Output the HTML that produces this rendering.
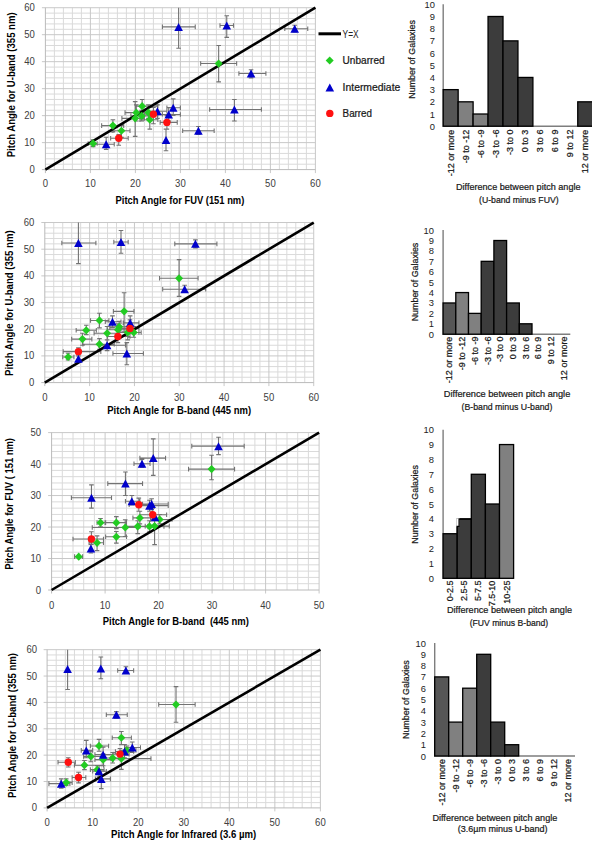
<!DOCTYPE html><html><head><meta charset="utf-8"><style>html,body{margin:0;padding:0;background:#fff;}svg{display:block;font-family:"Liberation Sans",sans-serif;}</style></head><body><svg width="592" height="841" viewBox="0 0 592 841"><rect width="592" height="841" fill="#fff"/><path d="M54.4 7.72V169.6M63.4 7.72V169.6M72.4 7.72V169.6M81.4 7.72V169.6M99.4 7.72V169.6M108.4 7.72V169.6M117.4 7.72V169.6M126.4 7.72V169.6M144.4 7.72V169.6M153.4 7.72V169.6M162.4 7.72V169.6M171.4 7.72V169.6M189.4 7.72V169.6M198.4 7.72V169.6M207.4 7.72V169.6M216.4 7.72V169.6M234.4 7.72V169.6M243.4 7.72V169.6M252.4 7.72V169.6M261.4 7.72V169.6M279.4 7.72V169.6M288.4 7.72V169.6M297.4 7.72V169.6M306.4 7.72V169.6M45.4 164.2H315.4M45.4 158.81H315.4M45.4 153.41H315.4M45.4 148.02H315.4M45.4 137.22H315.4M45.4 131.83H315.4M45.4 126.43H315.4M45.4 121.04H315.4M45.4 110.24H315.4M45.4 104.85H315.4M45.4 99.45H315.4M45.4 94.06H315.4M45.4 83.26H315.4M45.4 77.87H315.4M45.4 72.47H315.4M45.4 67.08H315.4M45.4 56.28H315.4M45.4 50.89H315.4M45.4 45.49H315.4M45.4 40.1H315.4M45.4 29.3H315.4M45.4 23.91H315.4M45.4 18.51H315.4M45.4 13.12H315.4" stroke="#dadada" stroke-width="1" fill="none"/><path d="M90.4 7.72V173.1M135.4 7.72V173.1M180.4 7.72V173.1M225.4 7.72V173.1M270.4 7.72V173.1M315.4 7.72V173.1M41.9 142.62H315.4M41.9 115.64H315.4M41.9 88.66H315.4M41.9 61.68H315.4M41.9 34.7H315.4M41.9 7.72H315.4" stroke="#c8c8c8" stroke-width="1" fill="none"/><path d="M45.4 7.72V169.6H315.4" stroke="#bababa" stroke-width="1" fill="none"/><path d="M41.9 169.6H45.4M45.4 169.6V173.1" stroke="#bababa" stroke-width="1" fill="none"/><text x="45.4" y="183.6" font-size="10" text-anchor="middle" dominant-baseline="central" fill="#404040" textLength="5.3" lengthAdjust="spacingAndGlyphs">0</text><text x="90.4" y="183.6" font-size="10" text-anchor="middle" dominant-baseline="central" fill="#404040" textLength="10.6" lengthAdjust="spacingAndGlyphs">10</text><text x="135.4" y="183.6" font-size="10" text-anchor="middle" dominant-baseline="central" fill="#404040" textLength="10.6" lengthAdjust="spacingAndGlyphs">20</text><text x="180.4" y="183.6" font-size="10" text-anchor="middle" dominant-baseline="central" fill="#404040" textLength="10.6" lengthAdjust="spacingAndGlyphs">30</text><text x="225.4" y="183.6" font-size="10" text-anchor="middle" dominant-baseline="central" fill="#404040" textLength="10.6" lengthAdjust="spacingAndGlyphs">40</text><text x="270.4" y="183.6" font-size="10" text-anchor="middle" dominant-baseline="central" fill="#404040" textLength="10.6" lengthAdjust="spacingAndGlyphs">50</text><text x="315.4" y="183.6" font-size="10" text-anchor="middle" dominant-baseline="central" fill="#404040" textLength="10.6" lengthAdjust="spacingAndGlyphs">60</text><text x="34.9" y="169.6" font-size="10" text-anchor="end" dominant-baseline="central" fill="#404040" textLength="5.3" lengthAdjust="spacingAndGlyphs">0</text><text x="34.9" y="142.62" font-size="10" text-anchor="end" dominant-baseline="central" fill="#404040" textLength="10.6" lengthAdjust="spacingAndGlyphs">10</text><text x="34.9" y="115.64" font-size="10" text-anchor="end" dominant-baseline="central" fill="#404040" textLength="10.6" lengthAdjust="spacingAndGlyphs">20</text><text x="34.9" y="88.66" font-size="10" text-anchor="end" dominant-baseline="central" fill="#404040" textLength="10.6" lengthAdjust="spacingAndGlyphs">30</text><text x="34.9" y="61.68" font-size="10" text-anchor="end" dominant-baseline="central" fill="#404040" textLength="10.6" lengthAdjust="spacingAndGlyphs">40</text><text x="34.9" y="34.7" font-size="10" text-anchor="end" dominant-baseline="central" fill="#404040" textLength="10.6" lengthAdjust="spacingAndGlyphs">50</text><text x="34.9" y="7.72" font-size="10" text-anchor="end" dominant-baseline="central" fill="#404040" textLength="10.6" lengthAdjust="spacingAndGlyphs">60</text><path d="M88.15 143.43H97.15M88.15 141.13V145.73M97.15 141.13V145.73M93.1 146.67V139.92M90.8 146.67H95.4M90.8 139.92H95.4M94.9 144.24H114.25M94.9 141.94V146.54M114.25 141.94V146.54M106.15 149.37V137.22M103.85 149.37H108.45M103.85 137.22H108.45M110.65 138.3H128.2M110.65 136V140.6M128.2 136V140.6M118.75 145.32V134.53M116.45 145.32H121.05M116.45 134.53H121.05M101.65 125.62H123.7M101.65 123.32V127.92M123.7 123.32V127.92M112.9 131.83V119.69M110.6 131.83H115.2M110.6 119.69H115.2M112.9 130.75H130M112.9 128.45V133.05M130 128.45V133.05M121.45 137.22V125.08M119.15 137.22H123.75M119.15 125.08H123.75M121.9 118.34H144.4M121.9 116.04V120.64M144.4 116.04V120.64M135.17 136.41V101.61M132.87 136.41H137.47M132.87 101.61H137.47M125.05 112.67H153.4M125.05 110.37V114.97M153.4 110.37V114.97M136.3 121.04V104.85M134 121.04H138.6M134 104.85H138.6M135.4 106.2H157.9M135.4 103.9V108.5M157.9 103.9V108.5M142.15 112.94V99.45M139.85 112.94H144.45M139.85 99.45H144.45M130.9 115.91H153.4M130.9 113.61V118.21M153.4 113.61V118.21M141.7 121.04V110.24M139.4 121.04H144M139.4 110.24H144M139.9 112.67H157.9M139.9 110.37V114.97M157.9 110.37V114.97M148.45 118.34V104.85M146.15 118.34H150.75M146.15 104.85H150.75M139.9 119.69H157.9M139.9 117.39V121.99M157.9 117.39V121.99M149.8 129.13V115.64M147.5 129.13H152.1M147.5 115.64H152.1M144.4 111.32H166.9M144.4 109.02V113.62M166.9 109.02V113.62M157.45 118.34V104.85M155.15 118.34H159.75M155.15 104.85H159.75M144.4 114.29H162.4M144.4 111.99V116.59M162.4 111.99V116.59M153.4 123.73V107.55M151.1 123.73H155.7M151.1 107.55H155.7M157.9 114.56H180.4M157.9 112.26V116.86M180.4 112.26V116.86M168.7 121.04V107.55M166.4 121.04H171M166.4 107.55H171M166.9 107.82H180.4M166.9 105.52V110.12M180.4 105.52V110.12M173.2 115.37V98.91M170.9 115.37H175.5M170.9 98.91H175.5M160.15 122.38H177.25M160.15 120.08V124.68M177.25 120.08V124.68M166.9 129.13V115.64M164.6 129.13H169.2M164.6 115.64H169.2M166 150.71V129.13M163.7 150.71H168.3M163.7 129.13H168.3M162.4 26.88H195.25M162.4 24.58V29.18M195.25 24.58V29.18M178.6 48.19V7.72M176.3 48.19H180.9M182.65 130.75H214.15M182.65 128.45V133.05M214.15 128.45V133.05M198.4 134.53V126.43M196.1 134.53H200.7M196.1 126.43H200.7M200.65 63.57H236.65M200.65 61.27V65.87M236.65 61.27V65.87M218.65 81.91V45.49M216.35 81.91H220.95M216.35 45.49H220.95M220 25.53H233.5M220 23.23V27.83M233.5 23.23V27.83M226.75 37.4V15.81M224.45 37.4H229.05M224.45 15.81H229.05M209.65 109.43H261.4M209.65 107.13V111.73M261.4 107.13V111.73M234.4 121.04V99.45M232.1 121.04H236.7M232.1 99.45H236.7M238.9 73.55H265.9M238.9 71.25V75.85M265.9 71.25V75.85M251.05 77.87V69.77M248.75 77.87H253.35M248.75 69.77H253.35M284.8 28.76H307.75M284.8 26.46V31.06M307.75 26.46V31.06M294.7 32V25.26M292.4 32H297M292.4 25.26H297" stroke="#737373" stroke-width="1.1" fill="none"/><path d="M45.4 169.6L315.4 7.72" stroke="#000" stroke-width="2.6" fill="none"/><path d="M93.1 139.33L97.1 143.43L93.1 147.53L89.1 143.43Z" fill="#22cc22"/><path d="M112.9 121.52L116.9 125.62L112.9 129.72L108.9 125.62Z" fill="#22cc22"/><path d="M121.45 126.65L125.45 130.75L121.45 134.85L117.45 130.75Z" fill="#22cc22"/><path d="M135.17 114.24L139.17 118.34L135.17 122.44L131.17 118.34Z" fill="#22cc22"/><path d="M136.3 108.57L140.3 112.67L136.3 116.77L132.3 112.67Z" fill="#22cc22"/><path d="M142.15 102.1L146.15 106.2L142.15 110.3L138.15 106.2Z" fill="#22cc22"/><path d="M141.7 111.81L145.7 115.91L141.7 120.01L137.7 115.91Z" fill="#22cc22"/><path d="M148.45 108.57L152.45 112.67L148.45 116.77L144.45 112.67Z" fill="#22cc22"/><path d="M149.8 115.59L153.8 119.69L149.8 123.79L145.8 119.69Z" fill="#22cc22"/><path d="M218.65 59.47L222.65 63.57L218.65 67.67L214.65 63.57Z" fill="#22cc22"/><path d="M106.15 140.24L110.45 148.24L101.85 148.24Z" fill="#0000cc"/><path d="M157.45 107.32L161.75 115.32L153.15 115.32Z" fill="#0000cc"/><path d="M168.7 110.56L173 118.56L164.4 118.56Z" fill="#0000cc"/><path d="M173.2 103.82L177.5 111.82L168.9 111.82Z" fill="#0000cc"/><path d="M166 135.92L170.3 143.92L161.7 143.92Z" fill="#0000cc"/><path d="M178.6 22.88L182.9 30.88L174.3 30.88Z" fill="#0000cc"/><path d="M198.4 126.75L202.7 134.75L194.1 134.75Z" fill="#0000cc"/><path d="M226.75 21.53L231.05 29.53L222.45 29.53Z" fill="#0000cc"/><path d="M234.4 105.43L238.7 113.43L230.1 113.43Z" fill="#0000cc"/><path d="M251.05 69.55L255.35 77.55L246.75 77.55Z" fill="#0000cc"/><path d="M294.7 24.76L299 32.76L290.4 32.76Z" fill="#0000cc"/><circle cx="118.75" cy="138.3" r="3.7" fill="#ff1111"/><circle cx="153.4" cy="114.29" r="3.7" fill="#ff1111"/><circle cx="166.9" cy="122.38" r="3.7" fill="#ff1111"/><text x="115.6" y="200.2" font-size="10" text-anchor="start" dominant-baseline="central" fill="#000" font-weight="bold" textLength="128.7" lengthAdjust="spacingAndGlyphs">Pitch Angle for FUV (151 nm)</text><text x="11.1" y="157.3" font-size="10" text-anchor="start" dominant-baseline="central" fill="#000" font-weight="bold" transform="rotate(-90 11.1 157.3)" textLength="144.9" lengthAdjust="spacingAndGlyphs">Pitch Angle for U-band (355 nm)</text><path d="M318.5 33.8H341" stroke="#000" stroke-width="3"/><text x="342.6" y="34" font-size="10" text-anchor="start" dominant-baseline="central" fill="#222" textLength="16" lengthAdjust="spacingAndGlyphs">Y=X</text><path d="M329.7 56.4L333.7 60.5L329.7 64.6L325.7 60.5Z" fill="#22cc22"/><text x="342.6" y="60.5" font-size="10" text-anchor="start" dominant-baseline="central" fill="#222" textLength="42" lengthAdjust="spacingAndGlyphs" stroke="#111" stroke-width="0.22">Unbarred</text><path d="M329.8 83.6L334.1 91.6L325.5 91.6Z" fill="#0000cc"/><text x="342.6" y="87.4" font-size="10" text-anchor="start" dominant-baseline="central" fill="#222" textLength="57.7" lengthAdjust="spacingAndGlyphs" stroke="#111" stroke-width="0.22">Intermediate</text><circle cx="329.8" cy="113.4" r="3.7" fill="#ff1111"/><text x="342.6" y="113.4" font-size="10" text-anchor="start" dominant-baseline="central" fill="#222" textLength="29.4" lengthAdjust="spacingAndGlyphs" stroke="#111" stroke-width="0.22">Barred</text><path d="M443.2 4.3V126.2H592" stroke="#7e7e7e" stroke-width="1.4" fill="none"/><rect x="443.2" y="89.63" width="14.95" height="36.57" fill="#565656" stroke="#000" stroke-width="1.3"/><rect x="458.15" y="101.82" width="14.95" height="24.38" fill="#808080" stroke="#000" stroke-width="1.3"/><rect x="473.1" y="114.01" width="14.95" height="12.19" fill="#808080" stroke="#000" stroke-width="1.3"/><rect x="488.05" y="16.49" width="14.95" height="109.71" fill="#3c3c3c" stroke="#000" stroke-width="1.3"/><rect x="503" y="40.87" width="14.95" height="85.33" fill="#3c3c3c" stroke="#000" stroke-width="1.3"/><rect x="517.95" y="77.44" width="14.95" height="48.76" fill="#3c3c3c" stroke="#000" stroke-width="1.3"/><rect x="577.75" y="101.82" width="14.95" height="24.38" fill="#3c3c3c" stroke="#000" stroke-width="1.3"/><text x="435" y="126.2" font-size="9.8" text-anchor="end" dominant-baseline="central" fill="#222" textLength="5.2" lengthAdjust="spacingAndGlyphs">0</text><text x="435" y="114.01" font-size="9.8" text-anchor="end" dominant-baseline="central" fill="#222" textLength="5.2" lengthAdjust="spacingAndGlyphs">1</text><text x="435" y="101.82" font-size="9.8" text-anchor="end" dominant-baseline="central" fill="#222" textLength="5.2" lengthAdjust="spacingAndGlyphs">2</text><text x="435" y="89.63" font-size="9.8" text-anchor="end" dominant-baseline="central" fill="#222" textLength="5.2" lengthAdjust="spacingAndGlyphs">3</text><text x="435" y="77.44" font-size="9.8" text-anchor="end" dominant-baseline="central" fill="#222" textLength="5.2" lengthAdjust="spacingAndGlyphs">4</text><text x="435" y="65.25" font-size="9.8" text-anchor="end" dominant-baseline="central" fill="#222" textLength="5.2" lengthAdjust="spacingAndGlyphs">5</text><text x="435" y="53.06" font-size="9.8" text-anchor="end" dominant-baseline="central" fill="#222" textLength="5.2" lengthAdjust="spacingAndGlyphs">6</text><text x="435" y="40.87" font-size="9.8" text-anchor="end" dominant-baseline="central" fill="#222" textLength="5.2" lengthAdjust="spacingAndGlyphs">7</text><text x="435" y="28.68" font-size="9.8" text-anchor="end" dominant-baseline="central" fill="#222" textLength="5.2" lengthAdjust="spacingAndGlyphs">8</text><text x="435" y="16.49" font-size="9.8" text-anchor="end" dominant-baseline="central" fill="#222" textLength="5.2" lengthAdjust="spacingAndGlyphs">9</text><text x="435" y="4.3" font-size="9.8" text-anchor="end" dominant-baseline="central" fill="#222" textLength="10.4" lengthAdjust="spacingAndGlyphs">10</text><text x="450.68" y="129.6" font-size="9" text-anchor="end" dominant-baseline="central" fill="#222" transform="rotate(-90 450.68 129.6)" stroke="#111" stroke-width="0.22">-12 or more</text><text x="465.62" y="129.6" font-size="9" text-anchor="end" dominant-baseline="central" fill="#222" transform="rotate(-90 465.62 129.6)" stroke="#111" stroke-width="0.22">-9 to -12</text><text x="480.57" y="129.6" font-size="9" text-anchor="end" dominant-baseline="central" fill="#222" transform="rotate(-90 480.57 129.6)" stroke="#111" stroke-width="0.22">-6 to -9</text><text x="495.52" y="129.6" font-size="9" text-anchor="end" dominant-baseline="central" fill="#222" transform="rotate(-90 495.52 129.6)" stroke="#111" stroke-width="0.22">-3 to -6</text><text x="510.47" y="129.6" font-size="9" text-anchor="end" dominant-baseline="central" fill="#222" transform="rotate(-90 510.47 129.6)" stroke="#111" stroke-width="0.22">-3 to 0</text><text x="525.42" y="129.6" font-size="9" text-anchor="end" dominant-baseline="central" fill="#222" transform="rotate(-90 525.42 129.6)" stroke="#111" stroke-width="0.22">0 to 3</text><text x="540.38" y="129.6" font-size="9" text-anchor="end" dominant-baseline="central" fill="#222" transform="rotate(-90 540.38 129.6)" stroke="#111" stroke-width="0.22">3 to 6</text><text x="555.33" y="129.6" font-size="9" text-anchor="end" dominant-baseline="central" fill="#222" transform="rotate(-90 555.33 129.6)" stroke="#111" stroke-width="0.22">6 to 9</text><text x="570.27" y="129.6" font-size="9" text-anchor="end" dominant-baseline="central" fill="#222" transform="rotate(-90 570.27 129.6)" stroke="#111" stroke-width="0.22">9 to 12</text><text x="585.23" y="129.6" font-size="9" text-anchor="end" dominant-baseline="central" fill="#222" transform="rotate(-90 585.23 129.6)" stroke="#111" stroke-width="0.22">12 or more</text><text x="411.8" y="59.4" font-size="9.2" text-anchor="middle" dominant-baseline="central" fill="#222" transform="rotate(-90 411.8 59.4)" textLength="78.6" lengthAdjust="spacingAndGlyphs" stroke="#111" stroke-width="0.22">Number of Galaxies</text><text x="518.25" y="186.5" font-size="9.5" text-anchor="middle" dominant-baseline="central" fill="#222" textLength="124.5" lengthAdjust="spacingAndGlyphs" stroke="#111" stroke-width="0.22">Difference between pitch angle</text><text x="518.8" y="199.4" font-size="9.5" text-anchor="middle" dominant-baseline="central" fill="#222" textLength="79.6" lengthAdjust="spacingAndGlyphs" stroke="#111" stroke-width="0.22">(U-band minus FUV)</text><path d="M53.76 222.52V382.6M62.73 222.52V382.6M71.69 222.52V382.6M80.66 222.52V382.6M98.58 222.52V382.6M107.55 222.52V382.6M116.51 222.52V382.6M125.48 222.52V382.6M143.4 222.52V382.6M152.37 222.52V382.6M161.33 222.52V382.6M170.3 222.52V382.6M188.22 222.52V382.6M197.19 222.52V382.6M206.15 222.52V382.6M215.12 222.52V382.6M233.04 222.52V382.6M242.01 222.52V382.6M250.97 222.52V382.6M259.94 222.52V382.6M277.86 222.52V382.6M286.83 222.52V382.6M295.79 222.52V382.6M304.76 222.52V382.6M44.8 377.26H313.72M44.8 371.93H313.72M44.8 366.59H313.72M44.8 361.26H313.72M44.8 350.58H313.72M44.8 345.25H313.72M44.8 339.91H313.72M44.8 334.58H313.72M44.8 323.9H313.72M44.8 318.57H313.72M44.8 313.23H313.72M44.8 307.9H313.72M44.8 297.22H313.72M44.8 291.89H313.72M44.8 286.55H313.72M44.8 281.22H313.72M44.8 270.54H313.72M44.8 265.21H313.72M44.8 259.87H313.72M44.8 254.54H313.72M44.8 243.86H313.72M44.8 238.53H313.72M44.8 233.19H313.72M44.8 227.86H313.72" stroke="#dadada" stroke-width="1" fill="none"/><path d="M89.62 222.52V386.1M134.44 222.52V386.1M179.26 222.52V386.1M224.08 222.52V386.1M268.9 222.52V386.1M313.72 222.52V386.1M41.3 355.92H313.72M41.3 329.24H313.72M41.3 302.56H313.72M41.3 275.88H313.72M41.3 249.2H313.72M41.3 222.52H313.72" stroke="#c8c8c8" stroke-width="1" fill="none"/><path d="M44.8 222.52V382.6H313.72" stroke="#bababa" stroke-width="1" fill="none"/><path d="M41.3 382.6H44.8M44.8 382.6V386.1" stroke="#bababa" stroke-width="1" fill="none"/><text x="44.8" y="397.4" font-size="10" text-anchor="middle" dominant-baseline="central" fill="#404040" textLength="5.3" lengthAdjust="spacingAndGlyphs">0</text><text x="89.62" y="397.4" font-size="10" text-anchor="middle" dominant-baseline="central" fill="#404040" textLength="10.6" lengthAdjust="spacingAndGlyphs">10</text><text x="134.44" y="397.4" font-size="10" text-anchor="middle" dominant-baseline="central" fill="#404040" textLength="10.6" lengthAdjust="spacingAndGlyphs">20</text><text x="179.26" y="397.4" font-size="10" text-anchor="middle" dominant-baseline="central" fill="#404040" textLength="10.6" lengthAdjust="spacingAndGlyphs">30</text><text x="224.08" y="397.4" font-size="10" text-anchor="middle" dominant-baseline="central" fill="#404040" textLength="10.6" lengthAdjust="spacingAndGlyphs">40</text><text x="268.9" y="397.4" font-size="10" text-anchor="middle" dominant-baseline="central" fill="#404040" textLength="10.6" lengthAdjust="spacingAndGlyphs">50</text><text x="313.72" y="397.4" font-size="10" text-anchor="middle" dominant-baseline="central" fill="#404040" textLength="10.6" lengthAdjust="spacingAndGlyphs">60</text><text x="34.3" y="382.6" font-size="10" text-anchor="end" dominant-baseline="central" fill="#404040" textLength="5.3" lengthAdjust="spacingAndGlyphs">0</text><text x="34.3" y="355.92" font-size="10" text-anchor="end" dominant-baseline="central" fill="#404040" textLength="10.6" lengthAdjust="spacingAndGlyphs">10</text><text x="34.3" y="329.24" font-size="10" text-anchor="end" dominant-baseline="central" fill="#404040" textLength="10.6" lengthAdjust="spacingAndGlyphs">20</text><text x="34.3" y="302.56" font-size="10" text-anchor="end" dominant-baseline="central" fill="#404040" textLength="10.6" lengthAdjust="spacingAndGlyphs">30</text><text x="34.3" y="275.88" font-size="10" text-anchor="end" dominant-baseline="central" fill="#404040" textLength="10.6" lengthAdjust="spacingAndGlyphs">40</text><text x="34.3" y="249.2" font-size="10" text-anchor="end" dominant-baseline="central" fill="#404040" textLength="10.6" lengthAdjust="spacingAndGlyphs">50</text><text x="34.3" y="222.52" font-size="10" text-anchor="end" dominant-baseline="central" fill="#404040" textLength="10.6" lengthAdjust="spacingAndGlyphs">60</text><path d="M62.73 356.99H73.93M62.73 354.69V359.29M73.93 354.69V359.29M68.11 359.92V353.25M65.81 359.92H70.41M65.81 353.25H70.41M63.18 351.65H100.83M63.18 349.35V353.95M100.83 349.35V353.95M78.41 355.92V347.92M76.11 355.92H80.71M76.11 347.92H80.71M71.69 339.11H91.86M71.69 336.81V341.41M91.86 336.81V341.41M82.45 345.25V333.24M80.15 345.25H84.75M80.15 333.24H84.75M76.17 330.31H96.34M76.17 328.01V332.61M96.34 328.01V332.61M86.26 334.58V325.24M83.96 334.58H88.56M83.96 325.24H88.56M90.52 320.44H108.89M90.52 318.14V322.74M108.89 318.14V322.74M99.48 327.91V313.23M97.18 327.91H101.78M97.18 313.23H101.78M82.9 344.18H114.27M82.9 341.88V346.48M114.27 341.88V346.48M99.48 349.25V338.58M97.18 349.25H101.78M97.18 338.58H101.78M94.1 333.24H118.75M94.1 330.94V335.54M118.75 330.94V335.54M107.1 339.91V326.57M104.8 339.91H109.4M104.8 326.57H109.4M98.58 345.25H125.48M98.58 342.95V347.55M125.48 342.95V347.55M107.1 350.58V339.91M104.8 350.58H109.4M104.8 339.91H109.4M105.31 321.77H120.99M105.31 319.47V324.07M120.99 319.47V324.07M112.48 327.91V315.9M110.18 327.91H114.78M110.18 315.9H114.78M113.37 311.36H133.99M113.37 309.06V313.66M133.99 309.06V313.66M124.13 331.91V292.69M121.83 331.91H126.43M121.83 292.69H126.43M107.55 329.77H129.96M107.55 327.47V332.07M129.96 327.47V332.07M117.86 337.24V323.9M115.56 337.24H120.16M115.56 323.9H120.16M109.79 326.84H129.96M109.79 324.54V329.14M129.96 324.54V329.14M119.2 331.91V321.24M116.9 331.91H121.5M116.9 321.24H121.5M107.55 336.44H129.96M107.55 334.14V338.74M129.96 334.14V338.74M117.86 342.58V330.57M115.56 342.58H120.16M115.56 330.57H120.16M123.23 322.84H138.92M123.23 320.54V325.14M138.92 320.54V325.14M130.18 329.24V315.9M127.88 329.24H132.48M127.88 315.9H132.48M120.99 328.44H138.92M120.99 326.14V330.74M138.92 326.14V330.74M129.96 337.24V319.9M127.66 337.24H132.26M127.66 319.9H132.26M118.75 332.44H138.92M118.75 330.14V334.74M138.92 330.14V334.74M127.72 339.91V326.57M125.42 339.91H130.02M125.42 326.57H130.02M127.72 332.44H141.16M127.72 330.14V334.74M141.16 330.14V334.74M133.77 337.24V326.57M131.47 337.24H136.07M131.47 326.57H136.07M112.93 353.52H143.4M112.93 351.22V355.82M143.4 351.22V355.82M126.82 364.72V342.58M124.52 364.72H129.12M124.52 342.58H129.12M61.83 243.06H95.89M61.83 240.76V245.36M95.89 240.76V245.36M78.41 263.61V222.52M76.11 263.61H80.71M113.82 242H128.17M113.82 239.7V244.3M128.17 239.7V244.3M120.99 253.2V230.52M118.69 253.2H123.29M118.69 230.52H123.29M174.78 243.86H216.91M174.78 241.56V246.16M216.91 241.56V246.16M195.4 247.87V239.86M193.1 247.87H197.7M193.1 239.86H197.7M159.54 278.28H198.08M159.54 275.98V280.58M198.08 275.98V280.58M179.08 296.42V259.61M176.78 296.42H181.38M176.78 259.61H181.38M162.68 289.22H205.7M162.68 286.92V291.52M205.7 286.92V291.52M184.64 291.89V285.22M182.34 291.89H186.94M182.34 285.22H186.94" stroke="#737373" stroke-width="1.1" fill="none"/><path d="M44.8 382.6L313.72 222.52" stroke="#000" stroke-width="2.6" fill="none"/><path d="M68.11 352.89L72.11 356.99L68.11 361.09L64.11 356.99Z" fill="#22cc22"/><path d="M82.45 335.01L86.45 339.11L82.45 343.21L78.45 339.11Z" fill="#22cc22"/><path d="M86.26 326.21L90.26 330.31L86.26 334.41L82.26 330.31Z" fill="#22cc22"/><path d="M99.48 316.34L103.48 320.44L99.48 324.54L95.48 320.44Z" fill="#22cc22"/><path d="M99.48 340.08L103.48 344.18L99.48 348.28L95.48 344.18Z" fill="#22cc22"/><path d="M107.1 329.14L111.1 333.24L107.1 337.34L103.1 333.24Z" fill="#22cc22"/><path d="M124.13 307.26L128.13 311.36L124.13 315.46L120.13 311.36Z" fill="#22cc22"/><path d="M117.86 325.67L121.86 329.77L117.86 333.87L113.86 329.77Z" fill="#22cc22"/><path d="M119.2 322.74L123.2 326.84L119.2 330.94L115.2 326.84Z" fill="#22cc22"/><path d="M127.72 328.34L131.72 332.44L127.72 336.54L123.72 332.44Z" fill="#22cc22"/><path d="M133.77 328.34L137.77 332.44L133.77 336.54L129.77 332.44Z" fill="#22cc22"/><path d="M179.08 274.18L183.08 278.28L179.08 282.38L175.08 278.28Z" fill="#22cc22"/><path d="M78.41 354.85L82.71 362.85L74.11 362.85Z" fill="#0000cc"/><path d="M107.1 341.25L111.4 349.25L102.8 349.25Z" fill="#0000cc"/><path d="M112.48 317.77L116.78 325.77L108.18 325.77Z" fill="#0000cc"/><path d="M130.18 318.84L134.48 326.84L125.88 326.84Z" fill="#0000cc"/><path d="M126.82 349.52L131.12 357.52L122.52 357.52Z" fill="#0000cc"/><path d="M78.41 239.06L82.71 247.06L74.11 247.06Z" fill="#0000cc"/><path d="M120.99 238L125.29 246L116.69 246Z" fill="#0000cc"/><path d="M195.4 239.86L199.7 247.86L191.1 247.86Z" fill="#0000cc"/><path d="M184.64 285.22L188.94 293.22L180.34 293.22Z" fill="#0000cc"/><circle cx="78.41" cy="351.65" r="3.7" fill="#ff1111"/><circle cx="117.86" cy="336.44" r="3.7" fill="#ff1111"/><circle cx="129.96" cy="328.44" r="3.7" fill="#ff1111"/><text x="107.3" y="410.4" font-size="10" text-anchor="start" dominant-baseline="central" fill="#000" font-weight="bold" textLength="143.8" lengthAdjust="spacingAndGlyphs">Pitch Angle for B-band (445 nm)</text><text x="9.6" y="375.9" font-size="10" text-anchor="start" dominant-baseline="central" fill="#000" font-weight="bold" transform="rotate(-90 9.6 375.9)" textLength="145.6" lengthAdjust="spacingAndGlyphs">Pitch Angle for U-band (355 nm)</text><path d="M62.3 432.6V590M73 432.6V590M83.7 432.6V590M94.4 432.6V590M115.8 432.6V590M126.5 432.6V590M137.2 432.6V590M147.9 432.6V590M169.3 432.6V590M180 432.6V590M190.7 432.6V590M201.4 432.6V590M222.8 432.6V590M233.5 432.6V590M244.2 432.6V590M254.9 432.6V590M276.3 432.6V590M287 432.6V590M297.7 432.6V590M308.4 432.6V590M51.6 583.7H319.1M51.6 577.41H319.1M51.6 571.11H319.1M51.6 564.82H319.1M51.6 552.22H319.1M51.6 545.93H319.1M51.6 539.63H319.1M51.6 533.34H319.1M51.6 520.74H319.1M51.6 514.45H319.1M51.6 508.15H319.1M51.6 501.86H319.1M51.6 489.26H319.1M51.6 482.97H319.1M51.6 476.67H319.1M51.6 470.38H319.1M51.6 457.78H319.1M51.6 451.49H319.1M51.6 445.19H319.1M51.6 438.9H319.1" stroke="#dadada" stroke-width="1" fill="none"/><path d="M105.1 432.6V593.5M158.6 432.6V593.5M212.1 432.6V593.5M265.6 432.6V593.5M319.1 432.6V593.5M48.1 558.52H319.1M48.1 527.04H319.1M48.1 495.56H319.1M48.1 464.08H319.1M48.1 432.6H319.1" stroke="#c8c8c8" stroke-width="1" fill="none"/><path d="M51.6 432.6V590H319.1" stroke="#bababa" stroke-width="1" fill="none"/><path d="M48.1 590H51.6M51.6 590V593.5" stroke="#bababa" stroke-width="1" fill="none"/><text x="51.6" y="605" font-size="10" text-anchor="middle" dominant-baseline="central" fill="#404040" textLength="5.3" lengthAdjust="spacingAndGlyphs">0</text><text x="105.1" y="605" font-size="10" text-anchor="middle" dominant-baseline="central" fill="#404040" textLength="10.6" lengthAdjust="spacingAndGlyphs">10</text><text x="158.6" y="605" font-size="10" text-anchor="middle" dominant-baseline="central" fill="#404040" textLength="10.6" lengthAdjust="spacingAndGlyphs">20</text><text x="212.1" y="605" font-size="10" text-anchor="middle" dominant-baseline="central" fill="#404040" textLength="10.6" lengthAdjust="spacingAndGlyphs">30</text><text x="265.6" y="605" font-size="10" text-anchor="middle" dominant-baseline="central" fill="#404040" textLength="10.6" lengthAdjust="spacingAndGlyphs">40</text><text x="319.1" y="605" font-size="10" text-anchor="middle" dominant-baseline="central" fill="#404040" textLength="10.6" lengthAdjust="spacingAndGlyphs">50</text><text x="41.1" y="590" font-size="10" text-anchor="end" dominant-baseline="central" fill="#404040" textLength="5.3" lengthAdjust="spacingAndGlyphs">0</text><text x="41.1" y="558.52" font-size="10" text-anchor="end" dominant-baseline="central" fill="#404040" textLength="10.6" lengthAdjust="spacingAndGlyphs">10</text><text x="41.1" y="527.04" font-size="10" text-anchor="end" dominant-baseline="central" fill="#404040" textLength="10.6" lengthAdjust="spacingAndGlyphs">20</text><text x="41.1" y="495.56" font-size="10" text-anchor="end" dominant-baseline="central" fill="#404040" textLength="10.6" lengthAdjust="spacingAndGlyphs">30</text><text x="41.1" y="464.08" font-size="10" text-anchor="end" dominant-baseline="central" fill="#404040" textLength="10.6" lengthAdjust="spacingAndGlyphs">40</text><text x="41.1" y="432.6" font-size="10" text-anchor="end" dominant-baseline="central" fill="#404040" textLength="10.6" lengthAdjust="spacingAndGlyphs">50</text><path d="M139.88 458.1H165.56M139.88 455.8V460.4M165.56 455.8V460.4M153.25 475.41V438.9M150.95 475.41H155.55M150.95 438.9H155.55M133.99 463.77H150.04M133.99 461.47V466.07M150.04 461.47V466.07M142.01 467.23V459.36M139.71 467.23H144.31M139.71 459.36H144.31M107.78 483.6H142.55M107.78 481.3V485.9M142.55 481.3V485.9M125.43 495.56V471.95M123.13 495.56H127.73M123.13 471.95H127.73M71.39 497.76H111.52M71.39 495.46V500.06M111.52 495.46V500.06M91.46 508.15V484.86M89.16 508.15H93.76M89.16 484.86H93.76M74.61 556.63H82.63M74.61 554.33V558.93M82.63 554.33V558.93M90.92 553.01V544.35M88.62 553.01H93.22M88.62 544.35H93.22M73 539H103.5M73 536.7V541.3M103.5 536.7V541.3M91.4 544.35V531.76M89.1 544.35H93.7M89.1 531.76H93.7M89.05 542.78H103.5M89.05 540.48V545.08M103.5 540.48V545.08M97.07 550.65V535.85M94.77 550.65H99.37M94.77 535.85H99.37M97.07 522.63H105.63M97.07 520.33V524.93M105.63 520.33V524.93M100.5 526.73V518.54M98.2 526.73H102.8M98.2 518.54H102.8M105.1 522.63H126.5M105.1 520.33V524.93M126.5 520.33V524.93M116.34 528.61V516.65M114.04 528.61H118.64M114.04 516.65H118.64M105.63 536.8H126.5M105.63 534.5V539.1M126.5 534.5V539.1M116.34 543.09V531.45M114.04 543.09H118.64M114.04 531.45H118.64M92.26 527.51H137.2M92.26 525.21V529.81M137.2 525.21V529.81M125.22 536.48V519.8M122.92 536.48H127.52M122.92 519.8H127.52M126.5 526.41H147.9M126.5 524.11V528.71M147.9 524.11V528.71M137.74 533.65V520.74M135.44 533.65H140.04M135.44 520.74H140.04M125.43 501.23H139.88M125.43 498.93V503.53M139.88 498.93V503.53M131.85 505V495.56M129.55 505H134.15M129.55 495.56H134.15M129.17 504.69H150.57M129.17 502.39V506.99M150.57 502.39V506.99M138.81 511.3V498.08M136.5 511.3H141.11M136.5 498.08H141.11M139.88 505.63H168.23M139.88 503.33V507.93M168.23 503.33V507.93M149.5 511.3V500.28M147.2 511.3H151.81M147.2 500.28H151.81M142.55 504.06H168.23M142.55 501.76V506.36M168.23 501.76V506.36M151.64 509.73V498.71M149.34 509.73H153.94M149.34 498.71H153.94M132.92 517.91H153.25M132.92 515.61V520.21M153.25 515.61V520.21M139.88 523.89V511.3M137.57 523.89H142.18M137.57 511.3H142.18M139.88 514.76H166.62M139.88 512.46V517.06M166.62 512.46V517.06M152.71 520.74V508.15M150.41 520.74H155.01M150.41 508.15H155.01M139.88 526.41H163.95M139.88 524.11V528.71M163.95 524.11V528.71M149.5 531.76V520.74M147.2 531.76H151.81M147.2 520.74H151.81M145.22 526.1H169.3M145.22 523.8V528.4M169.3 523.8V528.4M154.59 544.67V520.74M152.29 544.67H156.89M152.29 520.74H156.89M150.57 519.48H171.97M150.57 517.18V521.78M171.97 517.18V521.78M159.67 523.89V514.45M157.37 523.89H161.97M157.37 514.45H161.97M188.56 469.12H234.57M188.56 466.82V471.42M234.57 466.82V471.42M211.56 479.82V455.27M209.26 479.82H213.86M209.26 455.27H213.86M191.77 446.14H244.2M191.77 443.84V448.44M244.2 443.84V448.44M218.52 454.64V437.32M216.22 454.64H220.82M216.22 437.32H220.82" stroke="#737373" stroke-width="1.1" fill="none"/><path d="M51.6 590L319.1 432.6" stroke="#000" stroke-width="2.6" fill="none"/><path d="M78.72 552.53L82.72 556.63L78.72 560.73L74.72 556.63Z" fill="#22cc22"/><path d="M97.07 538.68L101.07 542.78L97.07 546.88L93.07 542.78Z" fill="#22cc22"/><path d="M100.5 518.53L104.5 522.63L100.5 526.73L96.5 522.63Z" fill="#22cc22"/><path d="M116.34 518.53L120.34 522.63L116.34 526.73L112.34 522.63Z" fill="#22cc22"/><path d="M116.34 532.7L120.34 536.8L116.34 540.9L112.34 536.8Z" fill="#22cc22"/><path d="M125.22 523.41L129.22 527.51L125.22 531.61L121.22 527.51Z" fill="#22cc22"/><path d="M137.74 522.31L141.74 526.41L137.74 530.51L133.74 526.41Z" fill="#22cc22"/><path d="M139.88 513.81L143.88 517.91L139.88 522.01L135.88 517.91Z" fill="#22cc22"/><path d="M149.5 522.31L153.5 526.41L149.5 530.51L145.5 526.41Z" fill="#22cc22"/><path d="M154.59 522L158.59 526.1L154.59 530.2L150.59 526.1Z" fill="#22cc22"/><path d="M159.67 515.38L163.67 519.48L159.67 523.58L155.67 519.48Z" fill="#22cc22"/><path d="M211.56 465.02L215.56 469.12L211.56 473.22L207.56 469.12Z" fill="#22cc22"/><path d="M153.25 454.1L157.55 462.1L148.95 462.1Z" fill="#0000cc"/><path d="M142.01 459.77L146.31 467.77L137.71 467.77Z" fill="#0000cc"/><path d="M125.43 479.6L129.73 487.6L121.13 487.6Z" fill="#0000cc"/><path d="M91.46 493.76L95.76 501.76L87.16 501.76Z" fill="#0000cc"/><path d="M90.92 544.45L95.22 552.45L86.62 552.45Z" fill="#0000cc"/><path d="M131.85 497.23L136.15 505.23L127.55 505.23Z" fill="#0000cc"/><path d="M149.5 501.63L153.81 509.63L145.2 509.63Z" fill="#0000cc"/><path d="M151.64 500.06L155.94 508.06L147.34 508.06Z" fill="#0000cc"/><path d="M155.12 513.28L159.42 521.28L150.82 521.28Z" fill="#0000cc"/><path d="M218.52 442.14L222.82 450.14L214.22 450.14Z" fill="#0000cc"/><circle cx="91.4" cy="539" r="3.7" fill="#ff1111"/><circle cx="138.81" cy="504.69" r="3.7" fill="#ff1111"/><circle cx="152.71" cy="514.76" r="3.7" fill="#ff1111"/><text x="102.8" y="621" font-size="10" text-anchor="start" dominant-baseline="central" fill="#000" font-weight="bold" textLength="146" lengthAdjust="spacingAndGlyphs">Pitch Angle for B-band&#160; (445 nm)</text><text x="10" y="569.8" font-size="10" text-anchor="start" dominant-baseline="central" fill="#000" font-weight="bold" transform="rotate(-90 10 569.8)" textLength="131.8" lengthAdjust="spacingAndGlyphs">Pitch Angle for FUV ( 151 nm)</text><path d="M56.21 649.68V807.9M65.32 649.68V807.9M74.43 649.68V807.9M83.54 649.68V807.9M101.76 649.68V807.9M110.87 649.68V807.9M119.98 649.68V807.9M129.09 649.68V807.9M147.31 649.68V807.9M156.42 649.68V807.9M165.53 649.68V807.9M174.64 649.68V807.9M192.86 649.68V807.9M201.97 649.68V807.9M211.08 649.68V807.9M220.19 649.68V807.9M238.41 649.68V807.9M247.52 649.68V807.9M256.63 649.68V807.9M265.74 649.68V807.9M283.96 649.68V807.9M293.07 649.68V807.9M302.18 649.68V807.9M311.29 649.68V807.9M47.1 802.63H320.4M47.1 797.35H320.4M47.1 792.08H320.4M47.1 786.8H320.4M47.1 776.26H320.4M47.1 770.98H320.4M47.1 765.71H320.4M47.1 760.43H320.4M47.1 749.89H320.4M47.1 744.61H320.4M47.1 739.34H320.4M47.1 734.06H320.4M47.1 723.52H320.4M47.1 718.24H320.4M47.1 712.97H320.4M47.1 707.69H320.4M47.1 697.15H320.4M47.1 691.87H320.4M47.1 686.6H320.4M47.1 681.32H320.4M47.1 670.78H320.4M47.1 665.5H320.4M47.1 660.23H320.4M47.1 654.95H320.4" stroke="#dadada" stroke-width="1" fill="none"/><path d="M92.65 649.68V811.4M138.2 649.68V811.4M183.75 649.68V811.4M229.3 649.68V811.4M274.85 649.68V811.4M320.4 649.68V811.4M43.6 781.53H320.4M43.6 755.16H320.4M43.6 728.79H320.4M43.6 702.42H320.4M43.6 676.05H320.4M43.6 649.68H320.4" stroke="#c8c8c8" stroke-width="1" fill="none"/><path d="M47.1 649.68V807.9H320.4" stroke="#bababa" stroke-width="1" fill="none"/><path d="M43.6 807.9H47.1M47.1 807.9V811.4" stroke="#bababa" stroke-width="1" fill="none"/><text x="47.1" y="822.5" font-size="10" text-anchor="middle" dominant-baseline="central" fill="#404040" textLength="5.3" lengthAdjust="spacingAndGlyphs">0</text><text x="92.65" y="822.5" font-size="10" text-anchor="middle" dominant-baseline="central" fill="#404040" textLength="10.6" lengthAdjust="spacingAndGlyphs">10</text><text x="138.2" y="822.5" font-size="10" text-anchor="middle" dominant-baseline="central" fill="#404040" textLength="10.6" lengthAdjust="spacingAndGlyphs">20</text><text x="183.75" y="822.5" font-size="10" text-anchor="middle" dominant-baseline="central" fill="#404040" textLength="10.6" lengthAdjust="spacingAndGlyphs">30</text><text x="229.3" y="822.5" font-size="10" text-anchor="middle" dominant-baseline="central" fill="#404040" textLength="10.6" lengthAdjust="spacingAndGlyphs">40</text><text x="274.85" y="822.5" font-size="10" text-anchor="middle" dominant-baseline="central" fill="#404040" textLength="10.6" lengthAdjust="spacingAndGlyphs">50</text><text x="320.4" y="822.5" font-size="10" text-anchor="middle" dominant-baseline="central" fill="#404040" textLength="10.6" lengthAdjust="spacingAndGlyphs">60</text><text x="37.1" y="807.9" font-size="10" text-anchor="end" dominant-baseline="central" fill="#404040" textLength="5.3" lengthAdjust="spacingAndGlyphs">0</text><text x="37.1" y="781.53" font-size="10" text-anchor="end" dominant-baseline="central" fill="#404040" textLength="10.6" lengthAdjust="spacingAndGlyphs">10</text><text x="37.1" y="755.16" font-size="10" text-anchor="end" dominant-baseline="central" fill="#404040" textLength="10.6" lengthAdjust="spacingAndGlyphs">20</text><text x="37.1" y="728.79" font-size="10" text-anchor="end" dominant-baseline="central" fill="#404040" textLength="10.6" lengthAdjust="spacingAndGlyphs">30</text><text x="37.1" y="702.42" font-size="10" text-anchor="end" dominant-baseline="central" fill="#404040" textLength="10.6" lengthAdjust="spacingAndGlyphs">40</text><text x="37.1" y="676.05" font-size="10" text-anchor="end" dominant-baseline="central" fill="#404040" textLength="10.6" lengthAdjust="spacingAndGlyphs">50</text><text x="37.1" y="649.68" font-size="10" text-anchor="end" dominant-baseline="central" fill="#404040" textLength="10.6" lengthAdjust="spacingAndGlyphs">60</text><path d="M48.92 783.64H69.88M48.92 781.34V785.94M69.88 781.34V785.94M61.22 788.12V778.89M58.92 788.12H63.52M58.92 778.89H63.52M60.77 782.58H72.15M60.77 780.28V784.88M72.15 780.28V784.88M66.23 785.49V778.89M63.93 785.49H68.53M63.93 778.89H68.53M72.15 777.57H85.82M72.15 775.27V779.87M85.82 775.27V779.87M78.53 782.85V772.3M76.23 782.85H80.83M76.23 772.3H80.83M58.03 762.28H75.34M58.03 759.98V764.58M75.34 759.98V764.58M68.28 767.03V757.8M65.98 767.03H70.58M65.98 757.8H70.58M74.43 765.18H103.58M74.43 762.88V767.48M103.58 762.88V767.48M84.45 769.66V760.43M82.15 769.66H86.75M82.15 760.43H86.75M81.26 750.41H92.65M81.26 748.11V752.71M92.65 748.11V752.71M86.27 757.8V740.39M83.97 757.8H88.57M83.97 740.39H88.57M83.54 756.48H101.76M83.54 754.18V758.78M101.76 754.18V758.78M90.83 761.75V751.2M88.53 761.75H93.13M88.53 751.2H93.13M90.37 745.93H108.59M90.37 743.63V748.23M108.59 743.63V748.23M99.03 751.2V739.34M96.73 751.2H101.33M96.73 739.34H101.33M92.65 771.25H106.31M92.65 768.95V773.55M106.31 768.95V773.55M99.03 776.26V765.71M96.73 776.26H101.33M96.73 765.71H101.33M90.37 769.66H104.04M90.37 767.36V771.96M104.04 767.36V771.96M97.2 773.62V765.71M94.91 773.62H99.5M94.91 765.71H99.5M95.38 778.89H110.41M95.38 776.59V781.19M110.41 776.59V781.19M101.3 788.65V770.98M99 788.65H103.6M99 770.98H103.6M94.93 754.63H113.15M94.93 752.33V756.93M113.15 752.33V756.93M103.13 760.43V747.25M100.83 760.43H105.43M100.83 747.25H105.43M94.93 759.64H113.15M94.93 757.34V761.94M113.15 757.34V761.94M103.13 765.71V753.84M100.83 765.71H105.43M100.83 753.84H105.43M104.04 758.06H122.26M104.04 755.76V760.36M122.26 755.76V760.36M112.69 763.07V752.52M110.39 763.07H114.99M110.39 752.52H114.99M112.24 737.76H131.37M112.24 735.46V740.06M131.37 735.46V740.06M121.35 744.61V731.43M119.05 744.61H123.65M119.05 731.43H123.65M113.15 754.11H129.09M113.15 751.81V756.41M129.09 751.81V756.41M119.98 759.12V748.57M117.68 759.12H122.28M117.68 748.57H122.28M110.87 758.59H150.95M110.87 756.29V760.89M150.95 756.29V760.89M121.35 769.4V752.52M119.05 769.4H123.65M119.05 752.52H123.65M115.42 751.47H133.64M115.42 749.17V753.77M133.64 749.17V753.77M124.53 757.8V744.61M122.23 757.8H126.83M122.23 744.61H126.83M119.98 750.41H135.92M119.98 748.11V752.71M135.92 748.11V752.71M126.81 755.16V745.93M124.51 755.16H129.11M124.51 745.93H129.11M124.53 747.51H140.48M124.53 745.21V749.81M140.48 745.21V749.81M132.28 752.52V741.98M129.98 752.52H134.58M129.98 741.98H134.58M67.6 689.5V649.68M65.3 689.5H69.9M100.85 678.69V657.06M98.55 678.69H103.15M98.55 657.06H103.15M117.7 670.51H133.64M117.7 668.21V672.81M133.64 668.21V672.81M125.9 673.41V666.82M123.6 673.41H128.2M123.6 666.82H128.2M106.31 714.81H127.27M106.31 712.51V717.11M127.27 712.51V717.11M116.34 718.24V711.65M114.04 718.24H118.64M114.04 711.65H118.64M158.7 704.53H195.14M158.7 702.23V706.83M195.14 702.23V706.83M176.01 722.2V686.6M173.71 722.2H178.31M173.71 686.6H178.31" stroke="#737373" stroke-width="1.1" fill="none"/><path d="M47.1 807.9L320.4 649.68" stroke="#000" stroke-width="2.6" fill="none"/><path d="M66.23 778.48L70.23 782.58L66.23 786.68L62.23 782.58Z" fill="#22cc22"/><path d="M84.45 761.08L88.45 765.18L84.45 769.28L80.45 765.18Z" fill="#22cc22"/><path d="M90.83 752.38L94.83 756.48L90.83 760.58L86.83 756.48Z" fill="#22cc22"/><path d="M99.03 741.83L103.03 745.93L99.03 750.03L95.03 745.93Z" fill="#22cc22"/><path d="M97.2 765.56L101.2 769.66L97.2 773.76L93.2 769.66Z" fill="#22cc22"/><path d="M103.13 755.54L107.13 759.64L103.13 763.74L99.13 759.64Z" fill="#22cc22"/><path d="M112.69 753.96L116.69 758.06L112.69 762.16L108.69 758.06Z" fill="#22cc22"/><path d="M121.35 733.66L125.35 737.76L121.35 741.86L117.35 737.76Z" fill="#22cc22"/><path d="M121.35 754.49L125.35 758.59L121.35 762.69L117.35 758.59Z" fill="#22cc22"/><path d="M126.81 746.31L130.81 750.41L126.81 754.51L122.81 750.41Z" fill="#22cc22"/><path d="M176.01 700.43L180.01 704.53L176.01 708.63L172.01 704.53Z" fill="#22cc22"/><path d="M61.22 779.64L65.52 787.64L56.92 787.64Z" fill="#0000cc"/><path d="M86.27 746.41L90.57 754.41L81.97 754.41Z" fill="#0000cc"/><path d="M99.03 767.25L103.33 775.25L94.73 775.25Z" fill="#0000cc"/><path d="M101.3 774.89L105.6 782.89L97 782.89Z" fill="#0000cc"/><path d="M103.13 750.63L107.43 758.63L98.83 758.63Z" fill="#0000cc"/><path d="M124.53 747.47L128.84 755.47L120.23 755.47Z" fill="#0000cc"/><path d="M132.28 743.51L136.58 751.51L127.98 751.51Z" fill="#0000cc"/><path d="M67.6 664.93L71.9 672.93L63.3 672.93Z" fill="#0000cc"/><path d="M100.85 664.4L105.15 672.4L96.55 672.4Z" fill="#0000cc"/><path d="M125.9 666.51L130.2 674.51L121.6 674.51Z" fill="#0000cc"/><path d="M116.34 710.81L120.64 718.81L112.04 718.81Z" fill="#0000cc"/><circle cx="78.53" cy="777.57" r="3.7" fill="#ff1111"/><circle cx="68.28" cy="762.28" r="3.7" fill="#ff1111"/><circle cx="119.98" cy="754.11" r="3.7" fill="#ff1111"/><text x="111.1" y="834.7" font-size="10" text-anchor="start" dominant-baseline="central" fill="#000" font-weight="bold" textLength="145" lengthAdjust="spacingAndGlyphs">Pitch Angle for Infrared (3.6 &#181;m)</text><text x="12.5" y="798" font-size="10" text-anchor="start" dominant-baseline="central" fill="#000" font-weight="bold" transform="rotate(-90 12.5 798)" textLength="145" lengthAdjust="spacingAndGlyphs">Pitch Angle for U-band (355 nm)</text><path d="M443.1 230.1V334.2H570.3" stroke="#7e7e7e" stroke-width="1.4" fill="none"/><rect x="443.1" y="302.97" width="12.7" height="31.23" fill="#565656" stroke="#000" stroke-width="1.3"/><rect x="455.8" y="292.56" width="12.7" height="41.64" fill="#808080" stroke="#000" stroke-width="1.3"/><rect x="468.5" y="313.38" width="12.7" height="20.82" fill="#808080" stroke="#000" stroke-width="1.3"/><rect x="481.2" y="261.33" width="12.7" height="72.87" fill="#3c3c3c" stroke="#000" stroke-width="1.3"/><rect x="493.9" y="240.51" width="12.7" height="93.69" fill="#3c3c3c" stroke="#000" stroke-width="1.3"/><rect x="506.6" y="302.97" width="12.7" height="31.23" fill="#3c3c3c" stroke="#000" stroke-width="1.3"/><rect x="519.3" y="323.79" width="12.7" height="10.41" fill="#3c3c3c" stroke="#000" stroke-width="1.3"/><text x="434" y="334.2" font-size="9.8" text-anchor="end" dominant-baseline="central" fill="#222" textLength="5.2" lengthAdjust="spacingAndGlyphs">0</text><text x="434" y="323.79" font-size="9.8" text-anchor="end" dominant-baseline="central" fill="#222" textLength="5.2" lengthAdjust="spacingAndGlyphs">1</text><text x="434" y="313.38" font-size="9.8" text-anchor="end" dominant-baseline="central" fill="#222" textLength="5.2" lengthAdjust="spacingAndGlyphs">2</text><text x="434" y="302.97" font-size="9.8" text-anchor="end" dominant-baseline="central" fill="#222" textLength="5.2" lengthAdjust="spacingAndGlyphs">3</text><text x="434" y="292.56" font-size="9.8" text-anchor="end" dominant-baseline="central" fill="#222" textLength="5.2" lengthAdjust="spacingAndGlyphs">4</text><text x="434" y="282.15" font-size="9.8" text-anchor="end" dominant-baseline="central" fill="#222" textLength="5.2" lengthAdjust="spacingAndGlyphs">5</text><text x="434" y="271.74" font-size="9.8" text-anchor="end" dominant-baseline="central" fill="#222" textLength="5.2" lengthAdjust="spacingAndGlyphs">6</text><text x="434" y="261.33" font-size="9.8" text-anchor="end" dominant-baseline="central" fill="#222" textLength="5.2" lengthAdjust="spacingAndGlyphs">7</text><text x="434" y="250.92" font-size="9.8" text-anchor="end" dominant-baseline="central" fill="#222" textLength="5.2" lengthAdjust="spacingAndGlyphs">8</text><text x="434" y="240.51" font-size="9.8" text-anchor="end" dominant-baseline="central" fill="#222" textLength="5.2" lengthAdjust="spacingAndGlyphs">9</text><text x="434" y="230.1" font-size="9.8" text-anchor="end" dominant-baseline="central" fill="#222" textLength="10.4" lengthAdjust="spacingAndGlyphs">10</text><text x="449.45" y="336.6" font-size="9" text-anchor="end" dominant-baseline="central" fill="#222" transform="rotate(-90 449.45 336.6)" stroke="#111" stroke-width="0.22">-12 or more</text><text x="462.15" y="336.6" font-size="9" text-anchor="end" dominant-baseline="central" fill="#222" transform="rotate(-90 462.15 336.6)" stroke="#111" stroke-width="0.22">-9 to -12</text><text x="474.85" y="336.6" font-size="9" text-anchor="end" dominant-baseline="central" fill="#222" transform="rotate(-90 474.85 336.6)" stroke="#111" stroke-width="0.22">-6 to -9</text><text x="487.55" y="336.6" font-size="9" text-anchor="end" dominant-baseline="central" fill="#222" transform="rotate(-90 487.55 336.6)" stroke="#111" stroke-width="0.22">-3 to -6</text><text x="500.25" y="336.6" font-size="9" text-anchor="end" dominant-baseline="central" fill="#222" transform="rotate(-90 500.25 336.6)" stroke="#111" stroke-width="0.22">-3 to 0</text><text x="512.95" y="336.6" font-size="9" text-anchor="end" dominant-baseline="central" fill="#222" transform="rotate(-90 512.95 336.6)" stroke="#111" stroke-width="0.22">0 to 3</text><text x="525.65" y="336.6" font-size="9" text-anchor="end" dominant-baseline="central" fill="#222" transform="rotate(-90 525.65 336.6)" stroke="#111" stroke-width="0.22">3 to 6</text><text x="538.35" y="336.6" font-size="9" text-anchor="end" dominant-baseline="central" fill="#222" transform="rotate(-90 538.35 336.6)" stroke="#111" stroke-width="0.22">6 to 9</text><text x="551.05" y="336.6" font-size="9" text-anchor="end" dominant-baseline="central" fill="#222" transform="rotate(-90 551.05 336.6)" stroke="#111" stroke-width="0.22">9 to 12</text><text x="563.75" y="336.6" font-size="9" text-anchor="end" dominant-baseline="central" fill="#222" transform="rotate(-90 563.75 336.6)" stroke="#111" stroke-width="0.22">12 or more</text><text x="414.6" y="282" font-size="9.2" text-anchor="middle" dominant-baseline="central" fill="#222" transform="rotate(-90 414.6 282)" textLength="78.6" lengthAdjust="spacingAndGlyphs" stroke="#111" stroke-width="0.22">Number of Galaxies</text><text x="507.05" y="393.4" font-size="9.5" text-anchor="middle" dominant-baseline="central" fill="#222" textLength="126.5" lengthAdjust="spacingAndGlyphs" stroke="#111" stroke-width="0.22">Difference between pitch angle</text><text x="507" y="406.4" font-size="9.5" text-anchor="middle" dominant-baseline="central" fill="#222" textLength="90.8" lengthAdjust="spacingAndGlyphs" stroke="#111" stroke-width="0.22">(B-band minus U-band)</text><path d="M443.1 429.7V578.3H513.6" stroke="#7e7e7e" stroke-width="1.4" fill="none"/><rect x="443.1" y="533.72" width="14.1" height="44.58" fill="#3c3c3c" stroke="#000" stroke-width="1.3"/><rect x="457.2" y="518.86" width="14.1" height="59.44" fill="#3c3c3c" stroke="#000" stroke-width="1.3"/><rect x="471.3" y="474.28" width="14.1" height="104.02" fill="#3c3c3c" stroke="#000" stroke-width="1.3"/><rect x="485.4" y="504" width="14.1" height="74.3" fill="#3c3c3c" stroke="#000" stroke-width="1.3"/><rect x="499.5" y="444.56" width="14.1" height="133.74" fill="#808080" stroke="#000" stroke-width="1.3"/><text x="434" y="578.3" font-size="9.8" text-anchor="end" dominant-baseline="central" fill="#222" textLength="5.2" lengthAdjust="spacingAndGlyphs">0</text><text x="434" y="563.44" font-size="9.8" text-anchor="end" dominant-baseline="central" fill="#222" textLength="5.2" lengthAdjust="spacingAndGlyphs">1</text><text x="434" y="548.58" font-size="9.8" text-anchor="end" dominant-baseline="central" fill="#222" textLength="5.2" lengthAdjust="spacingAndGlyphs">2</text><text x="434" y="533.72" font-size="9.8" text-anchor="end" dominant-baseline="central" fill="#222" textLength="5.2" lengthAdjust="spacingAndGlyphs">3</text><text x="434" y="518.86" font-size="9.8" text-anchor="end" dominant-baseline="central" fill="#222" textLength="5.2" lengthAdjust="spacingAndGlyphs">4</text><text x="434" y="504" font-size="9.8" text-anchor="end" dominant-baseline="central" fill="#222" textLength="5.2" lengthAdjust="spacingAndGlyphs">5</text><text x="434" y="489.14" font-size="9.8" text-anchor="end" dominant-baseline="central" fill="#222" textLength="5.2" lengthAdjust="spacingAndGlyphs">6</text><text x="434" y="474.28" font-size="9.8" text-anchor="end" dominant-baseline="central" fill="#222" textLength="5.2" lengthAdjust="spacingAndGlyphs">7</text><text x="434" y="459.42" font-size="9.8" text-anchor="end" dominant-baseline="central" fill="#222" textLength="5.2" lengthAdjust="spacingAndGlyphs">8</text><text x="434" y="444.56" font-size="9.8" text-anchor="end" dominant-baseline="central" fill="#222" textLength="5.2" lengthAdjust="spacingAndGlyphs">9</text><text x="434" y="429.7" font-size="9.8" text-anchor="end" dominant-baseline="central" fill="#222" textLength="10.4" lengthAdjust="spacingAndGlyphs">10</text><text x="450.15" y="580.6" font-size="9" text-anchor="end" dominant-baseline="central" fill="#222" transform="rotate(-90 450.15 580.6)" stroke="#111" stroke-width="0.22">0-2.5</text><text x="464.25" y="580.6" font-size="9" text-anchor="end" dominant-baseline="central" fill="#222" transform="rotate(-90 464.25 580.6)" stroke="#111" stroke-width="0.22">2.5-5</text><text x="478.35" y="580.6" font-size="9" text-anchor="end" dominant-baseline="central" fill="#222" transform="rotate(-90 478.35 580.6)" stroke="#111" stroke-width="0.22">5-7.5</text><text x="492.45" y="580.6" font-size="9" text-anchor="end" dominant-baseline="central" fill="#222" transform="rotate(-90 492.45 580.6)" stroke="#111" stroke-width="0.22">7.5-10</text><text x="506.55" y="580.6" font-size="9" text-anchor="end" dominant-baseline="central" fill="#222" transform="rotate(-90 506.55 580.6)" stroke="#111" stroke-width="0.22">10-25</text><text x="414.6" y="504.4" font-size="9.2" text-anchor="middle" dominant-baseline="central" fill="#222" transform="rotate(-90 414.6 504.4)" textLength="78.6" lengthAdjust="spacingAndGlyphs" stroke="#111" stroke-width="0.22">Number of Galaxies</text><text x="509.5" y="609.7" font-size="9.5" text-anchor="middle" dominant-baseline="central" fill="#222" textLength="125" lengthAdjust="spacingAndGlyphs" stroke="#111" stroke-width="0.22">Difference between pitch angle</text><text x="508.95" y="622.7" font-size="9.5" text-anchor="middle" dominant-baseline="central" fill="#222" textLength="78.5" lengthAdjust="spacingAndGlyphs" stroke="#111" stroke-width="0.22">(FUV minus B-band)</text><rect x="456.4" y="518.3" width="3.2" height="8.3" fill="#fff"/><path d="M457.2 533V526.4H459.1V519.1H471.2" fill="none" stroke="#000" stroke-width="1.3"/><rect x="457.9" y="527.1" width="1.3" height="6" fill="#3c3c3c"/><path d="M434.7 643V756H575" stroke="#7e7e7e" stroke-width="1.4" fill="none"/><rect x="434.7" y="676.9" width="14" height="79.1" fill="#565656" stroke="#000" stroke-width="1.3"/><rect x="448.7" y="722.1" width="14" height="33.9" fill="#808080" stroke="#000" stroke-width="1.3"/><rect x="462.7" y="688.2" width="14" height="67.8" fill="#808080" stroke="#000" stroke-width="1.3"/><rect x="476.7" y="654.3" width="14" height="101.7" fill="#3c3c3c" stroke="#000" stroke-width="1.3"/><rect x="490.7" y="722.1" width="14" height="33.9" fill="#3c3c3c" stroke="#000" stroke-width="1.3"/><rect x="504.7" y="744.7" width="14" height="11.3" fill="#3c3c3c" stroke="#000" stroke-width="1.3"/><text x="426" y="756" font-size="9.8" text-anchor="end" dominant-baseline="central" fill="#222" textLength="5.2" lengthAdjust="spacingAndGlyphs">0</text><text x="426" y="744.7" font-size="9.8" text-anchor="end" dominant-baseline="central" fill="#222" textLength="5.2" lengthAdjust="spacingAndGlyphs">1</text><text x="426" y="733.4" font-size="9.8" text-anchor="end" dominant-baseline="central" fill="#222" textLength="5.2" lengthAdjust="spacingAndGlyphs">2</text><text x="426" y="722.1" font-size="9.8" text-anchor="end" dominant-baseline="central" fill="#222" textLength="5.2" lengthAdjust="spacingAndGlyphs">3</text><text x="426" y="710.8" font-size="9.8" text-anchor="end" dominant-baseline="central" fill="#222" textLength="5.2" lengthAdjust="spacingAndGlyphs">4</text><text x="426" y="699.5" font-size="9.8" text-anchor="end" dominant-baseline="central" fill="#222" textLength="5.2" lengthAdjust="spacingAndGlyphs">5</text><text x="426" y="688.2" font-size="9.8" text-anchor="end" dominant-baseline="central" fill="#222" textLength="5.2" lengthAdjust="spacingAndGlyphs">6</text><text x="426" y="676.9" font-size="9.8" text-anchor="end" dominant-baseline="central" fill="#222" textLength="5.2" lengthAdjust="spacingAndGlyphs">7</text><text x="426" y="665.6" font-size="9.8" text-anchor="end" dominant-baseline="central" fill="#222" textLength="5.2" lengthAdjust="spacingAndGlyphs">8</text><text x="426" y="654.3" font-size="9.8" text-anchor="end" dominant-baseline="central" fill="#222" textLength="5.2" lengthAdjust="spacingAndGlyphs">9</text><text x="426" y="643" font-size="9.8" text-anchor="end" dominant-baseline="central" fill="#222" textLength="10.4" lengthAdjust="spacingAndGlyphs">10</text><text x="441.7" y="759" font-size="9" text-anchor="end" dominant-baseline="central" fill="#222" transform="rotate(-90 441.7 759)" stroke="#111" stroke-width="0.22">-12 or more</text><text x="455.7" y="759" font-size="9" text-anchor="end" dominant-baseline="central" fill="#222" transform="rotate(-90 455.7 759)" stroke="#111" stroke-width="0.22">-9 to -12</text><text x="469.7" y="759" font-size="9" text-anchor="end" dominant-baseline="central" fill="#222" transform="rotate(-90 469.7 759)" stroke="#111" stroke-width="0.22">-6 to -9</text><text x="483.7" y="759" font-size="9" text-anchor="end" dominant-baseline="central" fill="#222" transform="rotate(-90 483.7 759)" stroke="#111" stroke-width="0.22">-3 to -6</text><text x="497.7" y="759" font-size="9" text-anchor="end" dominant-baseline="central" fill="#222" transform="rotate(-90 497.7 759)" stroke="#111" stroke-width="0.22">-3 to 0</text><text x="511.7" y="759" font-size="9" text-anchor="end" dominant-baseline="central" fill="#222" transform="rotate(-90 511.7 759)" stroke="#111" stroke-width="0.22">0 to 3</text><text x="525.7" y="759" font-size="9" text-anchor="end" dominant-baseline="central" fill="#222" transform="rotate(-90 525.7 759)" stroke="#111" stroke-width="0.22">3 to 6</text><text x="539.7" y="759" font-size="9" text-anchor="end" dominant-baseline="central" fill="#222" transform="rotate(-90 539.7 759)" stroke="#111" stroke-width="0.22">6 to 9</text><text x="553.7" y="759" font-size="9" text-anchor="end" dominant-baseline="central" fill="#222" transform="rotate(-90 553.7 759)" stroke="#111" stroke-width="0.22">9 to 12</text><text x="567.7" y="759" font-size="9" text-anchor="end" dominant-baseline="central" fill="#222" transform="rotate(-90 567.7 759)" stroke="#111" stroke-width="0.22">12 or more</text><text x="406.5" y="699.7" font-size="9.2" text-anchor="middle" dominant-baseline="central" fill="#222" transform="rotate(-90 406.5 699.7)" textLength="78.6" lengthAdjust="spacingAndGlyphs" stroke="#111" stroke-width="0.22">Number of Galaxies</text><text x="494.85" y="817.5" font-size="9.5" text-anchor="middle" dominant-baseline="central" fill="#222" textLength="124.9" lengthAdjust="spacingAndGlyphs" stroke="#111" stroke-width="0.22">Difference between pitch angle</text><text x="502.65" y="828.8" font-size="9.5" text-anchor="middle" dominant-baseline="central" fill="#222" textLength="89.9" lengthAdjust="spacingAndGlyphs" stroke="#111" stroke-width="0.22">(3.6&#181;m minus U-band)</text></svg></body></html>
